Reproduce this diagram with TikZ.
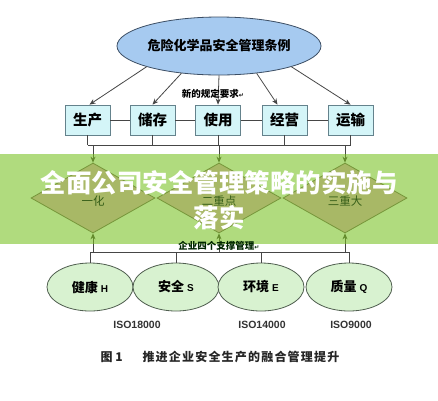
\documentclass[tikz,border=0pt]{standalone}
\usepackage{fontspec}
\usetikzlibrary{shapes.geometric,arrows.meta}
\newfontfamily\cjk{Noto Sans CJK SC}
\newfontfamily\latin{Liberation Sans}
\newfontfamily\djv{DejaVu Sans}
\definecolor{topfill}{RGB}{166,202,240}
\definecolor{topline}{RGB}{60,78,100}
\definecolor{boxfill}{RGB}{212,245,248}
\definecolor{boxline}{RGB}{100,130,140}
\definecolor{ellfill}{RGB}{216,242,208}
\definecolor{ellline}{RGB}{80,95,80}
\definecolor{bandfill}{RGB}{176,219,126}
\definecolor{diafill}{RGB}{168,184,102}
\definecolor{dialine}{RGB}{118,150,58}
\definecolor{linegray}{RGB}{70,70,70}
\definecolor{linegreen}{RGB}{100,140,45}
\definecolor{diatext}{RGB}{55,95,25}
\tikzset{
  topell/.style={ellipse, draw=topline, fill=topfill, line width=0.8pt,
    minimum width=204pt, minimum height=58pt, inner sep=0pt,
    font=\cjk\bfseries\fontsize{13}{13}\selectfont},
  procbox/.style={draw=boxline, fill=boxfill, line width=0.8pt,
    minimum width=45pt, minimum height=30pt, inner sep=0pt,
    font=\cjk\bfseries\fontsize{14.5}{14.5}\selectfont},
  hsqe/.style={ellipse, draw=ellline, fill=ellfill, line width=0.8pt,
    minimum width=86pt, minimum height=48pt, inner sep=0pt,
    font=\cjk\bfseries\fontsize{13}{13}\selectfont},
  dia/.style={diamond, draw=dialine, fill=diafill, line width=0.8pt,
    minimum width=124pt, minimum height=70pt, inner sep=0pt},
  diatxt/.style={text=diatext, font=\cjk\fontsize{11.5}{11.5}\selectfont},
  conn/.style={draw=linegray, line width=0.8pt},
  gconn/.style={draw=linegreen, line width=0.8pt},
  lbl/.style={font=\cjk\bfseries\fontsize{9.5}{9.5}\selectfont, inner sep=0pt},
  iso/.style={font=\latin\bfseries\fontsize{10.5}{10.5}\selectfont, text=black!80},
  tip/.style={-{Stealth[length=6pt,width=5pt]}}
}
\begin{document}
\begin{tikzpicture}[x=1pt,y=-1pt]
\useasboundingbox (0,0) rectangle (438,400);
\fill[white] (0,0) rectangle (438,400);

% band
\fill[bandfill] (0,154) rectangle (438,244);
\coordinate (bandtop) at (0,154);
\coordinate (bandbot) at (0,244);
\coordinate (busA) at (0,145);
\coordinate (busB) at (0,252);

% top ellipse
\node[topell] (top) at (219,46) {危险化学品安全管理条例};

% boxes
\node[procbox] (b1) at (87.5,120) {生产};
\node[procbox] (b2) at (152.5,120) {储存};
\node[procbox] (b3) at (218,120) {使用};
\node[procbox] (b4) at (284.5,120) {经营};
\node[procbox] (b5) at (350.5,120) {运输};

\draw[conn] (b1) -- (b2);
\draw[conn] (b2) -- (b3);
\draw[conn] (b3) -- (b4);
\draw[conn] (b4) -- (b5);

% arrows from top ellipse
\draw[conn,tip] (top.196) -- ([xshift=2pt]b1.north);
\draw[conn,tip] (top.216) -- (b2.north);
\draw[conn,tip] (top.south) -- (b3.north);
\draw[conn,tip] (top.324) -- ([xshift=-7pt]b4.north);
\draw[conn,tip] (top.344) -- (b5.north);
\node[lbl] (req) at (213,94) {新的规定要求{\djv\fontsize{6}{6}\selectfont ↵}};

% diamonds
\node[dia] (d1) at (93,198) {};
\node[dia] (d2) at (219,198) {};
\node[dia] (d3) at (345,198) {};
\node[diatxt] (t1) at (93,201) {一化};
\node[diatxt] (t2) at (219,201) {二重点};
\node[diatxt] (t3) at (345,201) {三重大};

% upper bus
\draw[conn] (b1.south) -- (b1.south |- busA);
\draw[conn] (b2.south) -- (b2.south |- busA);
\draw[conn] (b3.south) -- (b3.south |- busA);
\draw[conn] (b4.south) -- (b4.south |- busA);
\draw[conn] (b5.south) -- (b5.south |- busA);
\draw[conn] (b1.south |- busA) -- (b5.south |- busA);
\draw[conn] (d1.north |- busA) -- (d1.north |- bandtop);
\draw[conn] (d2.north |- busA) -- (d2.north |- bandtop);
\draw[conn] (d3.north |- busA) -- (d3.north |- bandtop);
\draw[gconn,tip] (d1.north |- bandtop) -- (d1.north);
\draw[gconn,tip] (d2.north |- bandtop) -- (d2.north);
\draw[gconn,tip] (d3.north |- bandtop) -- (d3.north);

% bottom ellipses
\node[hsqe] (e1) at (90,287) {健康 {\latin\bfseries\fontsize{10}{10}\selectfont H}};
\node[hsqe] (e2) at (176,287) {安全 {\latin\bfseries\fontsize{10}{10}\selectfont S}};
\node[hsqe] (e3) at (261,287) {环境 {\latin\bfseries\fontsize{10}{10}\selectfont E}};
\node[hsqe] (e4) at (349,287) {质量 {\latin\bfseries\fontsize{10}{10}\selectfont Q}};

% lower bus
\draw[conn] (e1.north) -- (e1.north |- busB);
\draw[conn] (e2.north) -- (e2.north |- busB);
\draw[conn] (e3.north) -- (e3.north |- busB);
\draw[conn] (e4.north) -- (e4.north |- busB);
\draw[conn] (e1.north |- busB) -- (e4.north |- busB);
\draw[conn] (d1.south |- busB) -- (d1.south |- bandbot);
\draw[conn] (d2.south |- busB) -- (d2.south |- bandbot);
\draw[conn] (d3.south |- busB) -- (d3.south |- bandbot);
\draw[gconn,tip] (d1.south |- bandbot) -- (d1.south);
\draw[gconn,tip] (d2.south |- bandbot) -- (d2.south);
\draw[gconn,tip] (d3.south |- bandbot) -- (d3.south);
\node[lbl, text=black!75!green!60!black] (sup) at (219,246) {企业四个支撑管理{\djv\fontsize{6}{6}\selectfont ↵}};

% ISO labels
\node[iso] (iso1) at (137,325) {ISO18000};
\node[iso] (iso2) at (262,325) {ISO14000};
\node[iso] (iso3) at (351,325) {ISO9000};

% caption
\node[anchor=west, font=\cjk\bfseries\fontsize{12}{12}\selectfont, text=black!85] (fig) at (97,357) {图 1};
\node[anchor=west, font=\cjk\bfseries\fontsize{12}{12}\selectfont\addfontfeatures{LetterSpace=10}, text=black!85] (cap) at (139,357) {推进企业安全生产的融合管理提升};

% banner title
\node[font=\cjk\bfseries\fontsize{25.5}{35}\selectfont, text=white, align=center] (title) at (219,200.5) {全面公司安全管理策略的实施与\\落实};
\end{tikzpicture}
\end{document}
